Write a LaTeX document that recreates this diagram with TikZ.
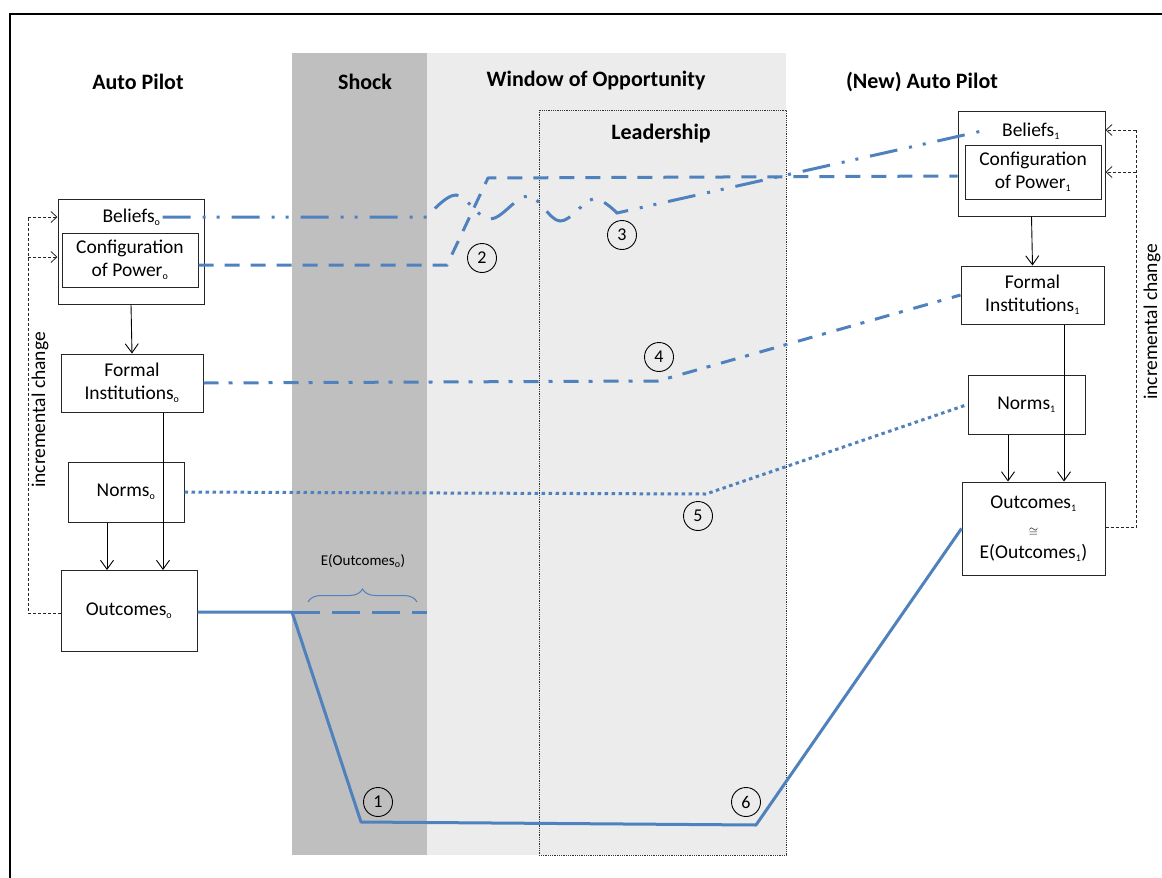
\documentclass[tikz,border=0pt]{standalone}
\usepackage{fontspec}
\setmainfont{Carlito}
\usetikzlibrary{arrows.meta,decorations.pathreplacing}

\definecolor{lineblue}{RGB}{79,129,189}
\definecolor{shockgray}{RGB}{191,191,191}
\definecolor{windowgray}{RGB}{236,236,236}

\newcommand{\boxfnt}{\fontsize{19.5}{23}\selectfont}
\newcommand{\headfnt}{\fontsize{22}{26}\selectfont\bfseries}
\newcommand{\numfnt}{\fontsize{18}{20}\selectfont}
\newcommand{\efnt}{\fontsize{15}{17}\selectfont}
\newcommand{\lowix}[1]{\textsubscript{\fontsize{10}{10}\selectfont #1}}

\tikzset{
  box/.style={draw=black!85, line width=1pt, inner sep=0pt, align=center, font=\boxfnt},
  txt/.style={inner sep=2pt, align=center, font=\boxfnt},
  head/.style={inner sep=0pt, font=\headfnt},
  num/.style={circle, draw, line width=0.9pt, minimum size=29pt, inner sep=0pt, font=\numfnt},
  flow/.style={-{Straight Barb[length=9pt,width=13pt]}, line width=0.9pt},
  feedback/.style={black!85, line width=0.8pt, dash pattern=on 3pt off 2pt},
  fbtip/.style={-{Straight Barb[length=6pt,width=11pt]}},
  blueline/.style={lineblue, line width=3pt},
  beliefline/.style={blueline, dash pattern=on 28pt off 12pt on 3pt off 11pt on 3pt off 12pt},
  powerline/.style={blueline, dash pattern=on 15pt off 11pt},
  formalline/.style={blueline, dash pattern=on 15pt off 10pt on 4pt off 11pt},
  normline/.style={blueline, dash pattern=on 3.5pt off 3.5pt},
  expline/.style={blueline, dash pattern=on 28pt off 12pt}
}

\begin{document}
\begin{tikzpicture}[x=1pt, y=-1pt]
\useasboundingbox (0,0) rectangle (1162,878);

% phases in the background
\fill[shockgray] (292,53) rectangle (427,855);
\fill[windowgray] (427,53) rectangle (786,855);
\draw[densely dotted, line width=0.8pt, black!80] (539,110) rectangle (786,855);
\draw[line width=2pt] (9.5,900) -- (9.5,14) -- (1180,14);

% headings
\node[head] (hAP0) at (138,82) {Auto Pilot};
\node[head] (hShock) at (365,82) {Shock};
\node[head] (hWin) at (596,81) {Window of Opportunity};
\node[head] (hAP1) at (922,82) {(New) Auto Pilot};
\node[head] (hLead) at (661,134) {Leadership};

% old auto pilot
\node[box, minimum width=146pt, minimum height=105pt] (bel0) at (131,251.5) {};
\node[txt] (bel0t) at (131.5,217) {Beliefs\lowix{o}};
\node[box, minimum width=136pt, minimum height=54pt] (cfg0) at (130,260) {Configuration\\of Power\lowix{o}};
\node[box, minimum width=142pt, minimum height=58pt] (fi0) at (132,383) {Formal\\Institutions\lowix{o}};
\node[box, minimum width=116pt, minimum height=60pt] (nor0) at (126,492) {Norms\lowix{o}};
\node[box, minimum width=136pt, minimum height=81pt] (out0) at (129,611) {Outcomes\lowix{o}};

\draw[flow] (bel0.south) -- (fi0.north);
\draw[flow] ([xshift=31pt]fi0.south) -- ([xshift=31pt]fi0.south |- out0.north);
\draw[flow] ([xshift=-19pt]nor0.south) -- ([xshift=-19pt]nor0.south |- out0.north);

\coordinate (fbL0) at (28,613);
\coordinate (fbL1) at (28,217);
\coordinate (fbL2) at (28,257);
\draw[feedback] (out0.west |- fbL0) -- (fbL0) -- (fbL1);
\draw[feedback, fbtip] (fbL1) -- (fbL1 -| bel0.west);
\draw[feedback, fbtip] (fbL2) -- (fbL2 -| bel0.west);
\node[txt, rotate=90] (inc0) at (40,410) {incremental change};

% new auto pilot
\node[box, minimum width=147pt, minimum height=105pt] (bel1) at (1031.5,163.5) {};
\node[txt] (bel1t) at (1031,131) {Beliefs\lowix{1}};
\node[box, minimum width=136pt, minimum height=54pt] (cfg1) at (1033,172) {Configuration\\of Power\lowix{1}};
\node[box, minimum width=143pt, minimum height=58pt] (fi1) at (1032.5,295) {Formal\\Institutions\lowix{1}};
\node[box, minimum width=117pt, minimum height=59pt] (nor1) at (1026.5,404.5) {Norms\lowix{1}};
\node[box, minimum width=143pt, minimum height=93pt] (out1) at (1033.5,528.5) {Outcomes\lowix{1}\\[5pt]{\fontsize{12}{12}\selectfont$\cong$}\\[-1pt]E(Outcomes\lowix{1})};

\draw[flow] (bel1.south) -- (fi1.north);
\draw[flow] ([xshift=31.5pt]fi1.south) -- ([xshift=31.5pt]fi1.south |- out1.north);
\draw[flow] ([xshift=-18.5pt]nor1.south) -- ([xshift=-18.5pt]nor1.south |- out1.north);

\coordinate (fbR0) at (1136,527);
\coordinate (fbR1) at (1136,130);
\coordinate (fbR2) at (1136,172);
\draw[feedback] (out1.east |- fbR0) -- (fbR0) -- (fbR1);
\draw[feedback, fbtip] (fbR1) -- (fbR1 -| bel1.east);
\draw[feedback, fbtip] (fbR2) -- (fbR2 -| bel1.east);
\node[txt, rotate=90] (inc1) at (1152,322) {incremental change};

% paths of the elements
\draw[beliefline] (bel0t.east) -- plot[smooth, tension=0.6] coordinates {(427,217) (456,195) (490,219) (528,196) (560,221) (593,199) (617,213)} -- ([xshift=-18pt]bel1t.west);
\draw[powerline] (cfg0.east |- 0,265) -- (447,265) -- (488,178) -- (bel1.west |- 0,176);
\draw[formalline] (fi0.east) -- (658,381) -- (fi1.west);
\draw[normline] (nor0.east) -- (706,494) -- (nor1.west);
\draw[blueline, line join=round] (out0.east |- 0,612) -- (292,612) -- (361,822) -- (756,825) -- (out1.west);
\draw[expline] (292,612) -- (427,612);
\draw[lineblue, line width=1pt, decorate, decoration={brace, amplitude=13pt}] (308,602) -- (417,602);
\node[inner sep=0pt, font=\efnt] (elab) at (363,561) {E(Outcomes\lowix{o})};

% numbered steps
\node[num] (n1) at (378,802) {1};
\node[num] (n2) at (482,258) {2};
\node[num] (n3) at (622,235) {3};
\node[num] (n4) at (659,357) {4};
\node[num] (n5) at (698,516) {5};
\node[num] (n6) at (746,802) {6};
\end{tikzpicture}
\end{document}
